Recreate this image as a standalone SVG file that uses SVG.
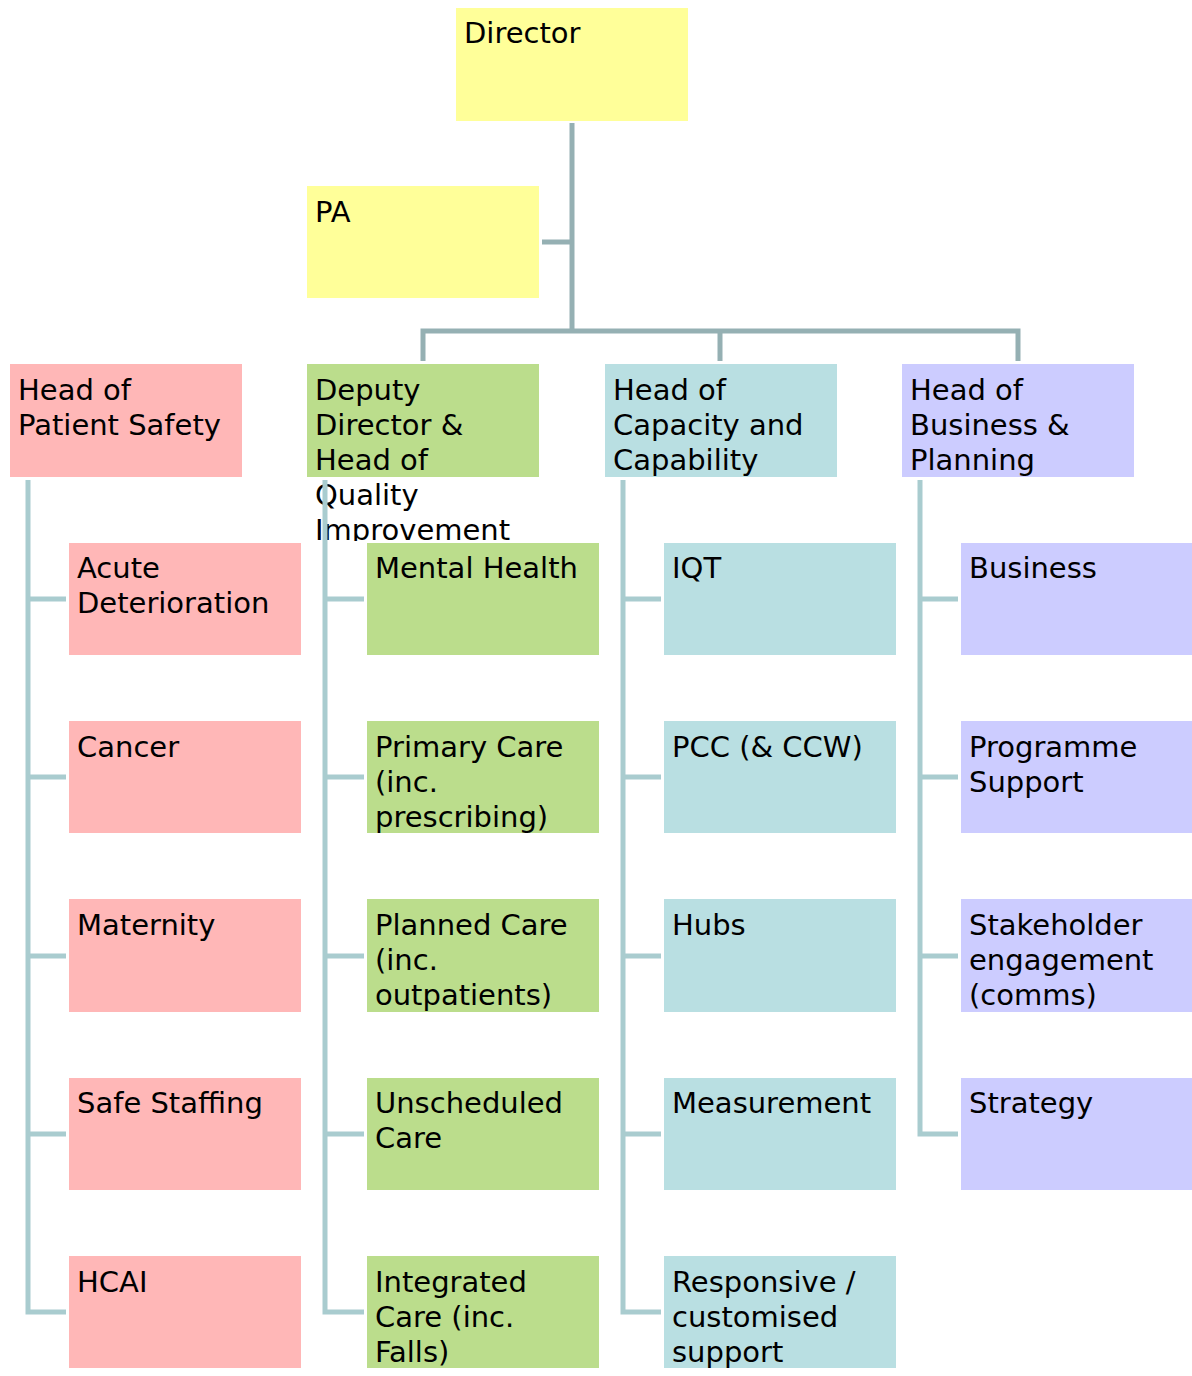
<svg xmlns="http://www.w3.org/2000/svg" width="1192" height="1376" viewBox="0 0 1192 1376">
  <style>
    text { font-family: "DejaVu Sans", Verdana, sans-serif; font-size: 29px; fill: #000; }
    .yellow { fill: #FFFF99; }
    .pink { fill: #FFB7B7; }
    .green { fill: #BBDD8C; }
    .teal { fill: #B9DFE2; }
    .lilac { fill: #CCCCFF; }
    .top { fill: none; stroke: #95B0B3; stroke-width: 5; }
    .branch { fill: none; stroke: #A9CCCF; stroke-width: 5; }
  </style>
  <defs>
    <clipPath id="dd-clip"><rect x="300" y="364" width="320" height="177"/></clipPath>
  </defs>
  <rect width="1192" height="1376" fill="#fff"/>

  <!-- top level -->
  <g id="director"><rect class="yellow" x="456" y="8" width="232" height="113"/><text x="464" y="43">Director</text></g>
  <g id="pa"><rect class="yellow" x="307" y="186" width="232" height="112"/><text x="315" y="222">PA</text></g>

  <!-- heads -->
  <g id="head-patient-safety"><rect class="pink" x="10" y="364" width="232" height="113"/><text x="18" y="400">Head of</text><text x="18" y="435">Patient Safety</text></g>
  <g id="deputy-director"><rect class="green" x="307" y="364" width="232" height="113"/>
    <g clip-path="url(#dd-clip)"><text x="315" y="400">Deputy</text><text x="315" y="435">Director &amp;</text><text x="315" y="470">Head of</text><text x="315" y="505">Quality</text><text x="315" y="540">Improvement</text></g></g>
  <g id="head-capacity"><rect class="teal" x="605" y="364" width="232" height="113"/><text x="613" y="400">Head of</text><text x="613" y="435">Capacity and</text><text x="613" y="470">Capability</text></g>
  <g id="head-business"><rect class="lilac" x="902" y="364" width="232" height="113"/><text x="910" y="400">Head of</text><text x="910" y="435">Business &amp;</text><text x="910" y="470">Planning</text></g>

  <!-- patient safety teams -->
  <g id="acute"><rect class="pink" x="69" y="543" width="232" height="112"/><text x="77" y="578">Acute</text><text x="77" y="613">Deterioration</text></g>
  <g id="cancer"><rect class="pink" x="69" y="721" width="232" height="112"/><text x="77" y="757">Cancer</text></g>
  <g id="maternity"><rect class="pink" x="69" y="899" width="232" height="113"/><text x="77" y="935">Maternity</text></g>
  <g id="safe-staffing"><rect class="pink" x="69" y="1078" width="232" height="112"/><text x="77" y="1113">Safe Staffing</text></g>
  <g id="hcai"><rect class="pink" x="69" y="1256" width="232" height="112"/><text x="77" y="1292">HCAI</text></g>

  <!-- quality improvement teams -->
  <g id="mental-health"><rect class="green" x="367" y="543" width="232" height="112"/><text x="375" y="578">Mental Health</text></g>
  <g id="primary-care"><rect class="green" x="367" y="721" width="232" height="112"/><text x="375" y="757">Primary Care</text><text x="375" y="792">(inc.</text><text x="375" y="827">prescribing)</text></g>
  <g id="planned-care"><rect class="green" x="367" y="899" width="232" height="113"/><text x="375" y="935">Planned Care</text><text x="375" y="970">(inc.</text><text x="375" y="1005">outpatients)</text></g>
  <g id="unscheduled-care"><rect class="green" x="367" y="1078" width="232" height="112"/><text x="375" y="1113">Unscheduled</text><text x="375" y="1148">Care</text></g>
  <g id="integrated-care"><rect class="green" x="367" y="1256" width="232" height="112"/><text x="375" y="1292">Integrated</text><text x="375" y="1327">Care (inc.</text><text x="375" y="1362">Falls)</text></g>

  <!-- capacity teams -->
  <g id="iqt"><rect class="teal" x="664" y="543" width="232" height="112"/><text x="672" y="578">IQT</text></g>
  <g id="pcc"><rect class="teal" x="664" y="721" width="232" height="112"/><text x="672" y="757">PCC (&amp; CCW)</text></g>
  <g id="hubs"><rect class="teal" x="664" y="899" width="232" height="113"/><text x="672" y="935">Hubs</text></g>
  <g id="measurement"><rect class="teal" x="664" y="1078" width="232" height="112"/><text x="672" y="1113">Measurement</text></g>
  <g id="responsive"><rect class="teal" x="664" y="1256" width="232" height="112"/><text x="672" y="1292">Responsive /</text><text x="672" y="1327">customised</text><text x="672" y="1362">support</text></g>

  <!-- business teams -->
  <g id="business"><rect class="lilac" x="961" y="543" width="231" height="112"/><text x="969" y="578">Business</text></g>
  <g id="programme-support"><rect class="lilac" x="961" y="721" width="231" height="112"/><text x="969" y="757">Programme</text><text x="969" y="792">Support</text></g>
  <g id="stakeholder"><rect class="lilac" x="961" y="899" width="231" height="113"/><text x="969" y="935">Stakeholder</text><text x="969" y="970">engagement</text><text x="969" y="1005">(comms)</text></g>
  <g id="strategy"><rect class="lilac" x="961" y="1078" width="231" height="112"/><text x="969" y="1113">Strategy</text></g>

  <!-- connectors -->
  <g id="connectors">
    <path class="top" d="M572 123 V331 M542 242 H572 M423 361 V331 H1018 V361 M720 331 V361"/>
    <path class="branch" d="M28 480 V1312 H66 M28 599 H66 M28 777 H66 M28 956 H66 M28 1134 H66"/>
    <path class="branch" d="M325 480 V1312 H364 M325 599 H364 M325 777 H364 M325 956 H364 M325 1134 H364"/>
    <path class="branch" d="M623 480 V1312 H661 M623 599 H661 M623 777 H661 M623 956 H661 M623 1134 H661"/>
    <path class="branch" d="M920 480 V1134 H958 M920 599 H958 M920 777 H958 M920 956 H958"/>
  </g>
</svg>
